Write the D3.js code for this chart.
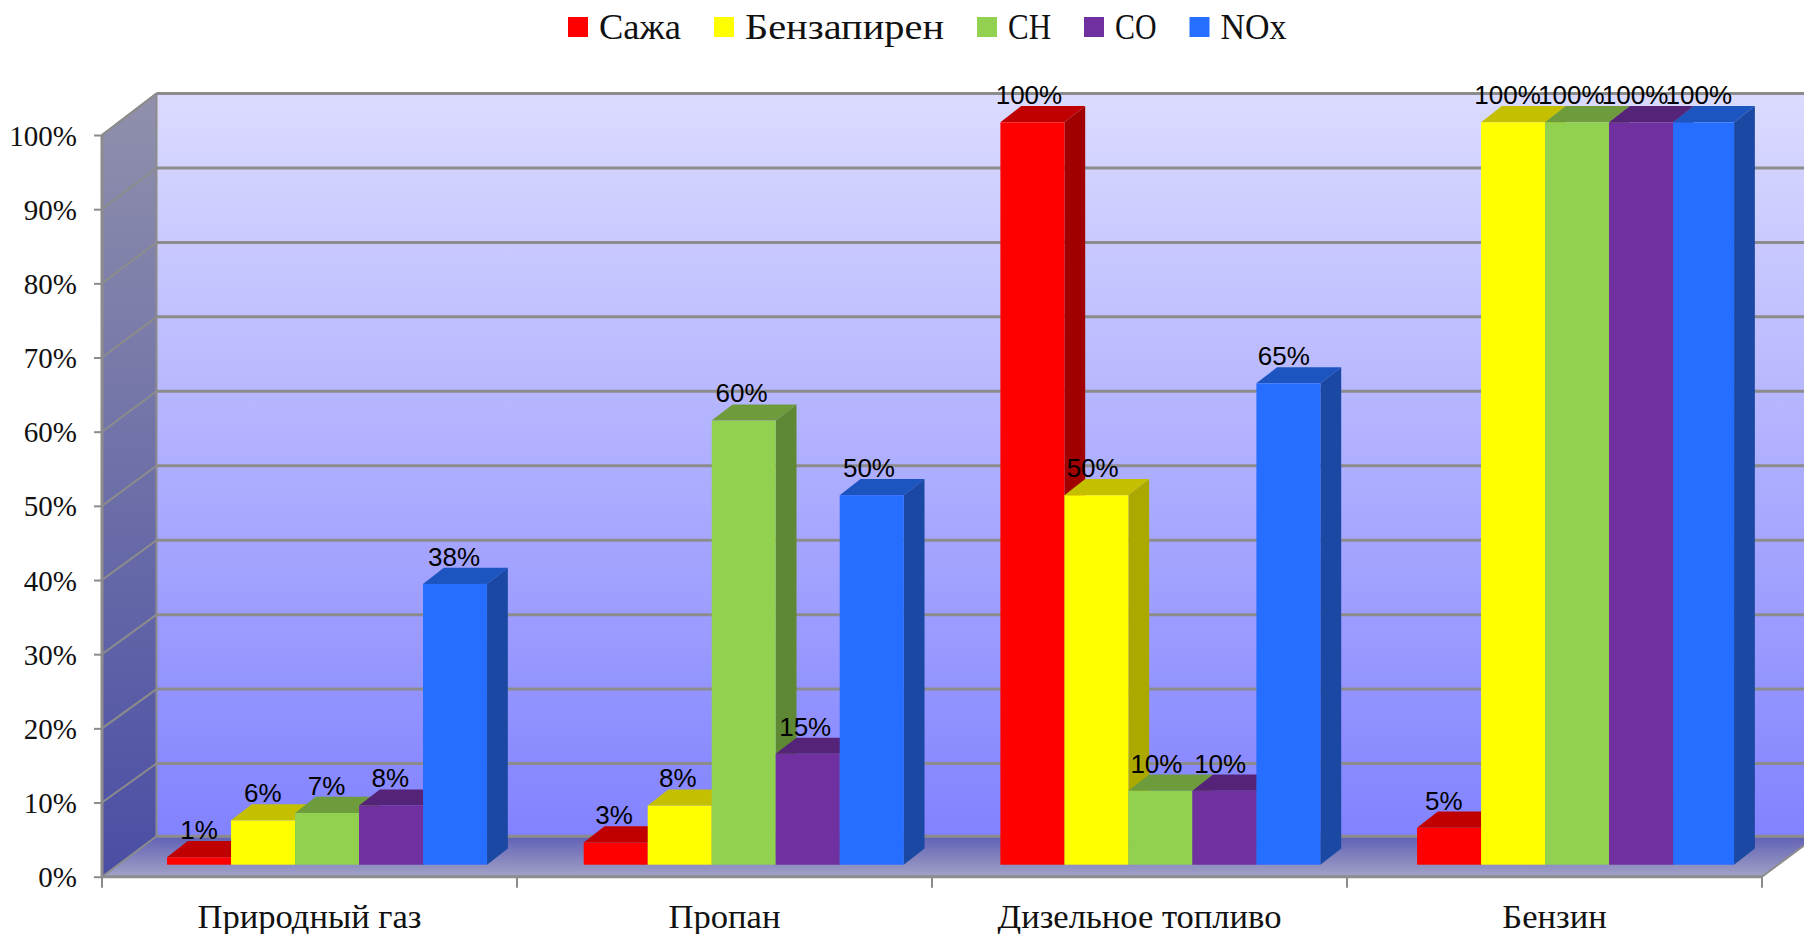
<!DOCTYPE html>
<html lang="ru">
<head>
<meta charset="utf-8">
<title>Выбросы по видам топлива</title>
<script src="https://cdnjs.cloudflare.com/ajax/libs/d3/7.9.0/d3.min.js"></script>
<style>
  html, body { margin: 0; padding: 0; background: #fff; overflow: hidden; }
  svg { display: block; }
  .serif { font-family: "Liberation Serif", serif; fill: #111; }
  .value { font-family: "Liberation Sans", Arial, sans-serif; font-size: 26px; fill: #000; text-anchor: middle; }
</style>
</head>
<body>
<svg id="chart" width="1804" height="934"></svg>
<script>
// Fuel types and pollutants
const categories = ["Природный газ", "Пропан", "Дизельное топливо", "Бензин"];
const seriesNames = ["Сажа", "Бензапирен", "CH", "CO", "NOx"];
const soot = [1, 3, 100, 5];
const benzapyrene = [6, 8, 50, 100];
const hydrocarbons = [7, 60, 10, 100];
const carbonMonoxide = [8, 15, 10, 100];
const nitrogenOxides = [38, 50, 65, 100];
const seriesValues = [soot, benzapyrene, hydrocarbons, carbonMonoxide, nitrogenOxides];
const yTicks = [0, 10, 20, 30, 40, 50, 60, 70, 80, 90, 100];

// Face colours of each series: front, top, side
const frontColors = ["#ff0000", "#ffff00", "#92d050", "#7030a0", "#266eff"];
const topColors = ["#c00000", "#c4c000", "#6e9c3c", "#552478", "#1c54c0"];
const sideColors = ["#a00000", "#aba800", "#5f8834", "#4a2069", "#1a48a2"];

// Legend label widths, fitted so the line stays evenly spaced
const legendTextWidths = [82, 199, 43, 41.5, 66];

const svg = d3.select("#chart");
const W = 1804;

// Plot box: front edge of the floor plus the offset to the back wall
const plotLeft = 102, plotRight = 1762, plotBottom = 876.7, plotTop = 135;
const depthX = 54.5, backTop = 93.5, floorBackY = 836.3;

const y = d3.scaleLinear().domain([0, 100]).range([plotBottom, plotTop]);
const yBack = d3.scaleLinear().domain([0, 100]).range([838, backTop]);
const backLineY = d => d === 0 ? floorBackY : yBack(d);
const xEdge = d3.scaleLinear().domain([0, categories.length]).range([plotLeft, plotRight]);
const xLabel = d3.scaleBand().domain(categories).range([plotLeft, plotRight]);

// Bars stand on the floor, inset from the front edge
const barY = d3.scaleLinear().domain([0, 50, 100]).range([864.7, 495.2, 122.3]);
const barX = d3.scaleBand().domain(categories).range([118.7, 1785.4]);
const barWidth = 64, barDepthX = 20.8, barDepthY = 16.2;
const inner = d3.scaleBand().domain(d3.range(seriesNames.length)).range([0, barWidth * seriesNames.length]);
const barLeft = (ci, si) => barX(categories[ci]) + (barX.bandwidth() - inner.range()[1]) / 2 + inner(si);
// The closing bar of the last group is drawn slightly narrower
const widthOf = (ci, si) => (ci === categories.length - 1 && si === seriesNames.length - 1) ? barWidth - 3 : barWidth;

// Gradients for the walls and floor
const defs = svg.append("defs");
function gradient(id, stops, x2 = 0, y2 = 1) {
  const g = defs.append("linearGradient").attr("id", id)
    .attr("x1", 0).attr("y1", 0).attr("x2", x2).attr("y2", y2);
  stops.forEach(([o, c]) => g.append("stop").attr("offset", o).attr("stop-color", c));
}
gradient("backWall", [[0, "#dbdbff"], [1, "#8282ff"]]);
gradient("sideWall", [[0, "#9090ac"], [1, "#4a4ea4"]]);
gradient("floor", [[0, "#6060b6"], [1, "#a2a2c6"]]);

const poly = pts => pts.map(p => p.join(",")).join(" ");
const floorRightY = plotBottom - (W - plotRight) * (plotBottom - floorBackY) / depthX;

const walls = svg.append("g");
walls.append("polygon")
  .attr("points", poly([[plotLeft + depthX, backTop], [W, backTop], [W, floorBackY], [plotLeft + depthX, floorBackY]]))
  .attr("fill", "url(#backWall)");
walls.append("polygon")
  .attr("points", poly([[plotLeft, plotTop], [plotLeft + depthX, backTop], [plotLeft + depthX, floorBackY], [plotLeft, plotBottom]]))
  .attr("fill", "url(#sideWall)");
walls.append("polygon")
  .attr("points", poly([[plotLeft, plotBottom], [plotLeft + depthX, floorBackY], [W, floorBackY], [W, floorRightY], [plotRight, plotBottom]]))
  .attr("fill", "url(#floor)");

// Gridlines along the back wall and across the side wall
const grid = svg.append("g").attr("stroke", "#8c8c8c").attr("fill", "none");
grid.selectAll("line.back").data(yTicks).join("line").attr("class", "back")
  .attr("x1", plotLeft + depthX).attr("x2", W)
  .attr("y1", backLineY).attr("y2", backLineY)
  .attr("stroke-width", 3);
grid.selectAll("line.side").data(yTicks).join("line").attr("class", "side")
  .attr("x1", plotLeft).attr("x2", plotLeft + depthX)
  .attr("y1", d => y(d)).attr("y2", backLineY)
  .attr("stroke-width", 2);
grid.append("line").attr("x1", plotLeft + depthX).attr("x2", plotLeft + depthX)
  .attr("y1", backTop).attr("y2", floorBackY).attr("stroke-width", 2);
grid.append("line").attr("x1", plotRight).attr("x2", W)
  .attr("y1", plotBottom).attr("y2", floorRightY).attr("stroke-width", 2);

// Bars: left to right so each one covers the side of its neighbour
const bars = svg.append("g");
categories.forEach((cat, ci) => {
  seriesNames.forEach((name, si) => {
    const v = seriesValues[si][ci];
    const x0 = barLeft(ci, si), x1 = x0 + widthOf(ci, si);
    const y0 = barY(0), y1 = barY(v);
    const g = bars.append("g").datum({ cat, name, v });
    g.append("polygon").attr("fill", sideColors[si])
      .attr("points", poly([[x1, y1], [x1 + barDepthX, y1 - barDepthY], [x1 + barDepthX, y0 - barDepthY], [x1, y0]]));
    g.append("polygon").attr("fill", topColors[si])
      .attr("points", poly([[x0, y1], [x0 + barDepthX, y1 - barDepthY], [x1 + barDepthX, y1 - barDepthY], [x1, y1]]));
    g.append("rect").attr("fill", frontColors[si])
      .attr("x", x0).attr("y", y1).attr("width", x1 - x0).attr("height", y0 - y1);
  });
});

// Value labels sit above the bar tops, drifting slightly left across the chart
const drift = d3.scaleLinear().domain([plotLeft, plotRight]).range([0.5, -6.5]);
const labels = svg.append("g");
categories.forEach((cat, ci) => {
  seriesNames.forEach((name, si) => {
    const v = seriesValues[si][ci];
    const cx = barLeft(ci, si) + barWidth / 2;
    labels.append("text").attr("class", "value")
      .attr("x", cx + drift(cx))
      .attr("y", barY(v) - barDepthY - 2)
      .text(v + "%");
  });
});

// Front frame and axes
const yAxis = d3.axisLeft(y).tickValues(yTicks).tickSize(8).tickPadding(17).tickFormat(d => d + "%");
const yG = svg.append("g").attr("transform", `translate(${plotLeft},0)`).call(yAxis);
yG.select(".domain").remove();
yG.selectAll("line").attr("stroke", "#8c8c8c").attr("stroke-width", 2);
yG.selectAll("text").attr("class", "serif").attr("font-size", 29).attr("dy", 0).attr("y", 10);

const frame = svg.append("g").attr("stroke", "#8c8c8c").attr("fill", "none");
frame.append("line").attr("x1", plotLeft).attr("x2", plotLeft).attr("y1", plotTop).attr("y2", plotBottom).attr("stroke-width", 3);
frame.append("line").attr("x1", plotLeft).attr("x2", plotRight).attr("y1", plotBottom).attr("y2", plotBottom).attr("stroke-width", 3);
frame.append("line").attr("x1", plotLeft).attr("x2", plotLeft + depthX).attr("y1", plotTop).attr("y2", backTop).attr("stroke-width", 2);
frame.selectAll("line.tick").data(d3.range(categories.length + 1)).join("line").attr("class", "tick")
  .attr("x1", d => xEdge(d)).attr("x2", d => xEdge(d))
  .attr("y1", plotBottom).attr("y2", plotBottom + 11).attr("stroke-width", 2);

const xAxis = d3.axisBottom(xLabel).tickSize(0).tickPadding(0);
const xG = svg.append("g").attr("transform", `translate(0,${plotBottom})`).call(xAxis);
xG.select(".domain").remove();
xG.selectAll("text").attr("class", "serif").attr("font-size", 34.6).attr("dy", 0).attr("y", 51.5);

// Legend
const legend = svg.append("g");
let cursor = 568;
seriesNames.forEach((name, i) => {
  legend.append("rect").attr("x", cursor).attr("y", 17).attr("width", 20).attr("height", 20).attr("fill", frontColors[i]);
  legend.append("text").attr("class", "serif").attr("x", cursor + 31).attr("y", 39)
    .attr("font-size", 35)
    .attr("textLength", legendTextWidths[i]).attr("lengthAdjust", "spacingAndGlyphs")
    .text(name);
  cursor += 31 + legendTextWidths[i] + 33;
});
</script>
</body>
</html>
